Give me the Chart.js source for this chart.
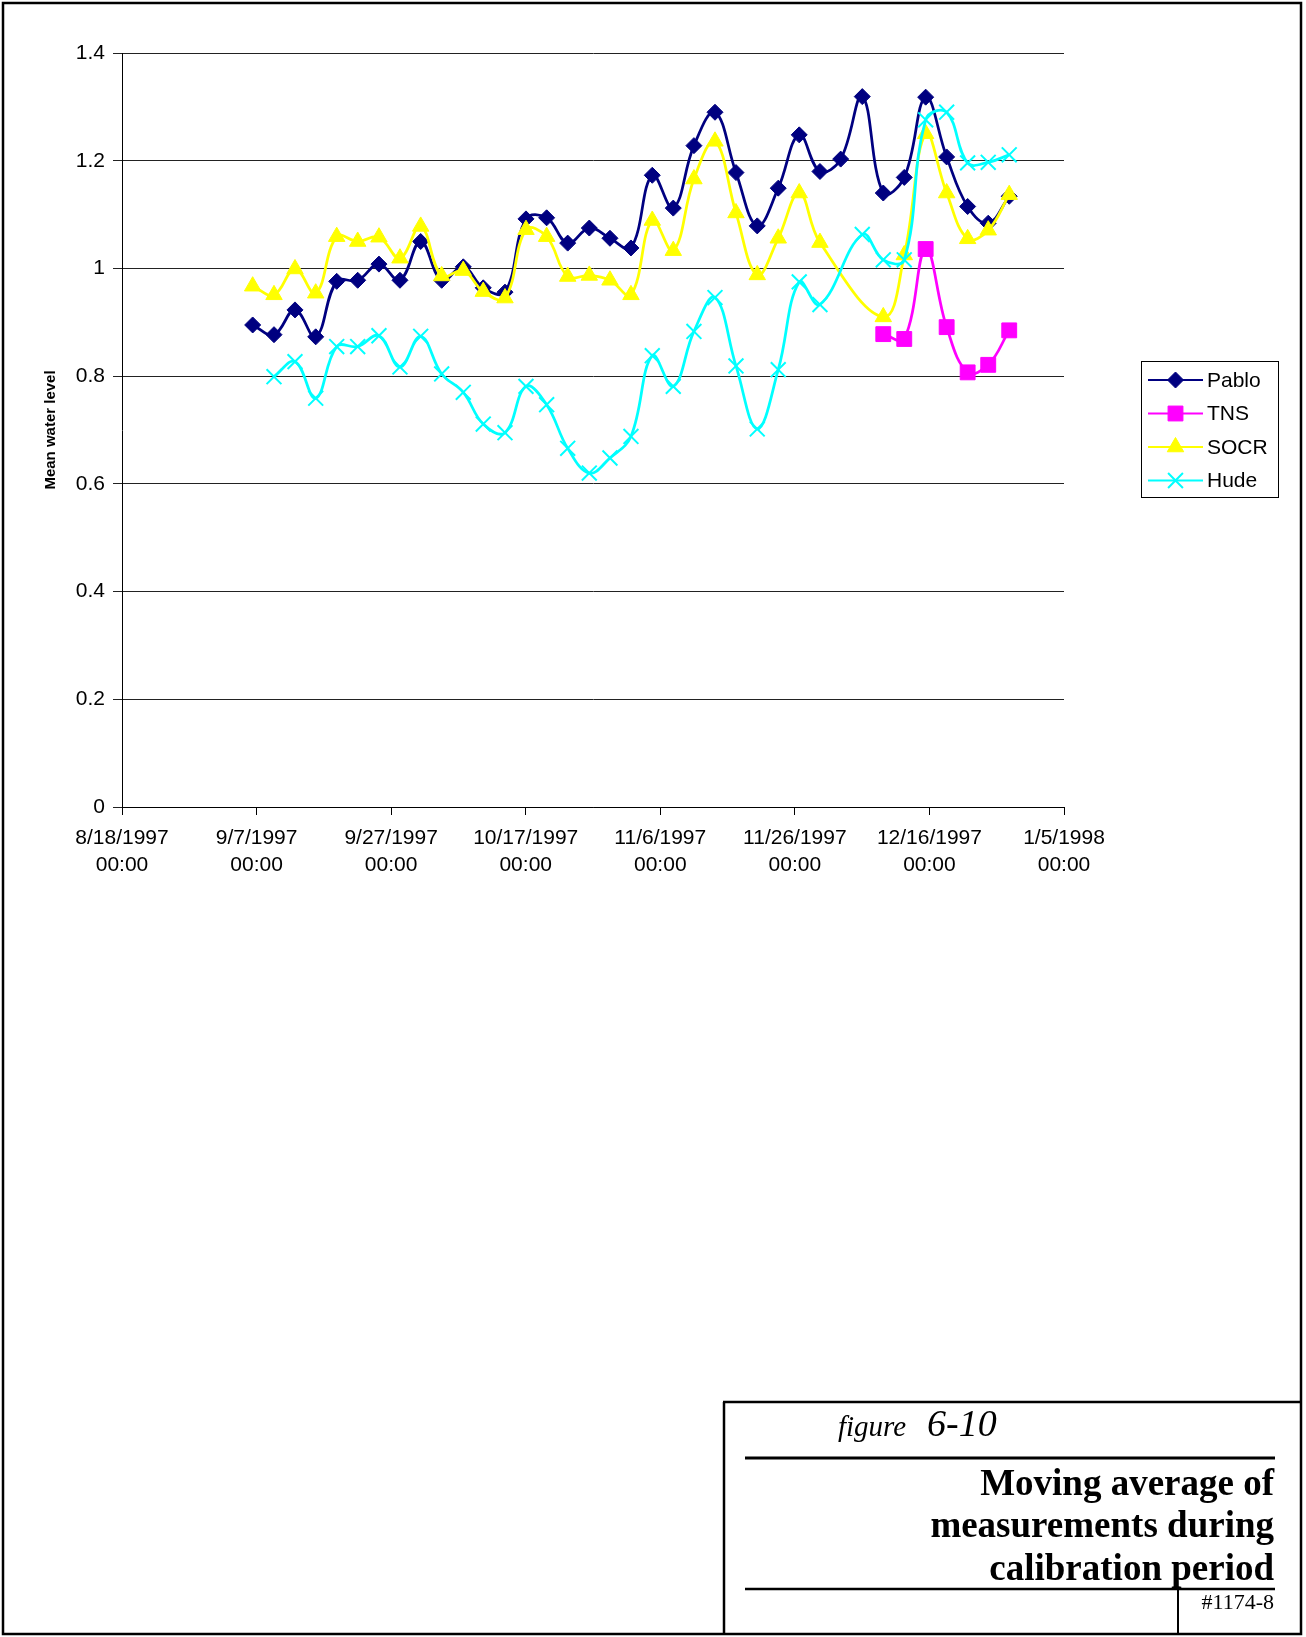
<!DOCTYPE html>
<html><head><meta charset="utf-8">
<script src="https://cdn.jsdelivr.net/npm/chart.js@4/dist/chart.umd.min.js"></script>
<style>
html,body{margin:0;padding:0;background:#fff;}
#page{position:relative;width:1306px;height:1637px;overflow:hidden;background:#fff;}
#c{position:absolute;left:0;top:0;}
#frame{position:absolute;left:0;top:0;pointer-events:none;}
</style></head><body><div id="page">
<canvas id="c" width="1306" height="900"></canvas>
<svg id="frame" width="1306" height="1637" xmlns="http://www.w3.org/2000/svg">
  <rect x="3" y="3" width="1298" height="1631" fill="none" stroke="#000" stroke-width="2.5"/>
  <line x1="724" y1="1402" x2="724" y2="1635" stroke="#000" stroke-width="2.5"/>
  <line x1="723" y1="1402" x2="1301" y2="1402" stroke="#000" stroke-width="2.5"/>
  <line x1="745" y1="1458" x2="1275" y2="1458" stroke="#000" stroke-width="3"/>
  <line x1="745" y1="1589" x2="1275" y2="1589" stroke="#000" stroke-width="2.5"/>
  <line x1="1178" y1="1589" x2="1178" y2="1635" stroke="#000" stroke-width="2"/>
  <text x="838" y="1436" font-family="'Liberation Serif','Times New Roman',serif" font-style="italic" font-size="29">figure</text>
  <text x="927" y="1436" font-family="'Liberation Serif','Times New Roman',serif" font-style="italic" font-size="38">6-10</text>
  <g font-family="'Liberation Serif','Times New Roman',serif" font-weight="bold" font-size="37" text-anchor="end">
    <text x="1274" y="1495">Moving average of</text>
    <text x="1274" y="1537">measurements during</text>
    <text x="1274" y="1580">calibration period</text>
  </g>
  <text x="1274" y="1609" text-anchor="end" font-family="'Liberation Serif','Times New Roman',serif" font-size="22">#1174-8</text>
</svg>
</div>
<script>
const seriesNames = ['Pablo', 'TNS', 'SOCR', 'Hude'];
const xTickDates = ['8/18/1997', '9/7/1997', '9/27/1997', '10/17/1997', '11/6/1997', '11/26/1997', '12/16/1997', '1/5/1998'];
const yTickLabels = ['0', '0.2', '0.4', '0.6', '0.8', '1', '1.2', '1.4'];
// days after 8/18/1997 00:00
const xDays = [19.42, 22.59, 25.71, 28.79, 31.91, 35.03, 38.19, 41.31, 44.39, 47.51, 50.72, 53.69, 56.92, 60.04, 63.11, 66.24, 69.45, 72.52, 75.64, 78.81, 81.93, 85.00, 88.13, 91.25, 94.41, 97.53, 100.65, 103.73, 106.81, 110.02, 113.14, 116.26, 119.44, 122.56, 125.68, 128.74, 131.86];
const pablo = [0.895, 0.877, 0.923, 0.873, 0.976, 0.978, 1.008, 0.978, 1.050, 0.978, 1.003, 0.964, 0.956, 1.092, 1.094, 1.047, 1.075, 1.056, 1.038, 1.173, 1.112, 1.228, 1.290, 1.178, 1.079, 1.149, 1.248, 1.180, 1.203, 1.319, 1.140, 1.169, 1.318, 1.207, 1.115, 1.084, 1.134];
const tns = [null, null, null, null, null, null, null, null, null, null, null, null, null, null, null, null, null, null, null, null, null, null, null, null, null, null, null, null, null, null, 0.878, 0.869, 1.036, 0.891, 0.807, 0.821, 0.885];
const socr = [0.967, 0.951, 0.999, 0.954, 1.059, 1.050, 1.058, 1.019, 1.078, 0.986, 0.996, 0.957, 0.945, 1.072, 1.059, 0.985, 0.987, 0.978, 0.951, 1.089, 1.033, 1.166, 1.236, 1.103, 0.988, 1.056, 1.140, 1.048, null, null, 0.910, 1.025, 1.250, 1.140, 1.055, 1.071, 1.137];
const hude = [null, 0.799, 0.827, 0.759, 0.855, 0.855, 0.875, 0.817, 0.874, 0.804, 0.770, 0.711, 0.695, 0.781, 0.747, 0.666, 0.620, 0.648, 0.688, 0.838, 0.781, 0.883, 0.946, 0.819, 0.702, 0.812, 0.975, 0.933, null, 1.063, 1.016, 1.016, 1.276, 1.290, 1.196, 1.197, 1.211];

function pts(vals) {
  const out = [];
  vals.forEach((v, i) => { if (v !== null) out.push({x: xDays[i], y: v}); });
  return out;
}

const FONT = "'Liberation Sans', Arial, sans-serif";

function ds(label, values, color, style, radius, order, pbw) {
  return {
    label: label, data: pts(values), order: order,
    borderColor: color, backgroundColor: color, borderWidth: 2.75,
    pointStyle: style, pointRadius: radius, pointHoverRadius: radius,
    pointBackgroundColor: color, pointBorderColor: color, pointBorderWidth: pbw,
    tension: 0.4, fill: false
  };
}

const legendPlugin = {
  id: 'boxLegend',
  afterDraw(chart, args, o) {
    const ctx = chart.ctx;
    ctx.save();
    ctx.strokeStyle = '#000'; ctx.lineWidth = 1;
    ctx.strokeRect(o.left + 0.5, o.top + 0.5, o.width, o.height);
    chart.data.datasets.forEach((d, i) => {
      const y = o.firstY + i * o.rowGap;
      ctx.strokeStyle = d.borderColor; ctx.lineWidth = 2;
      ctx.beginPath(); ctx.moveTo(o.lineX0, y); ctx.lineTo(o.lineX1, y); ctx.stroke();
      if (Chart.helpers && Chart.helpers.drawPoint) {
        ctx.fillStyle = d.pointBackgroundColor; ctx.strokeStyle = d.pointBorderColor;
        ctx.lineWidth = d.pointBorderWidth;
        Chart.helpers.drawPoint(ctx, {pointStyle: d.pointStyle, rotation: 0, radius: d.pointRadius, borderWidth: d.pointBorderWidth}, (o.lineX0 + o.lineX1) / 2, y);
      }
      ctx.fillStyle = '#000'; ctx.font = '21px ' + FONT; ctx.textBaseline = 'middle'; ctx.textAlign = 'left';
      ctx.fillText(d.label, o.textX, y + 1);
    });
    ctx.restore();
  }
};

new Chart(document.getElementById('c'), {
  type: 'line',
  data: {
    datasets: [
      ds(seriesNames[0], pablo, '#000080', 'rectRot', 8, 4, 1),
      ds(seriesNames[1], tns, '#FF00FF', 'rect', 10.5, 3, 1),
      ds(seriesNames[2], socr, '#FFFF00', 'triangle', 9.5, 2, 1),
      ds(seriesNames[3], hude, '#00FFFF', 'crossRot', 10.5, 1, 2)
    ]
  },
  plugins: [legendPlugin],
  options: {
    responsive: false, animation: false, devicePixelRatio: 1,
    layout: {padding: {left: 0, top: 53, right: 242, bottom: 0}},
    plugins: {
      legend: {display: false}, tooltip: {enabled: false},
      boxLegend: {left: 1141, top: 361, width: 137, height: 136, firstY: 380, rowGap: 33.5, lineX0: 1148, lineX1: 1203, textX: 1207}
    },
    scales: {
      x: {
        type: 'linear', min: 0, max: 140,
        ticks: {stepSize: 20, autoSkip: false, maxRotation: 0, color: '#000', padding: 10,
          font: {family: FONT, size: 21, lineHeight: 27 / 21},
          callback: (v) => [xTickDates[Math.round(v / 20)], '00:00']},
        grid: {drawOnChartArea: false, drawTicks: true, tickLength: 8, color: '#000'},
        border: {color: '#000', width: 1},
        afterFit: (s) => { s.height = 93; }
      },
      y: {
        min: 0, max: 1.4,
        ticks: {stepSize: 0.2, color: '#000', padding: 8, font: {family: FONT, size: 21},
          callback: (v) => yTickLabels[Math.round(v / 0.2)]},
        grid: {color: '#222', tickLength: 9, lineWidth: 1},
        border: {color: '#000', width: 1},
        title: {display: true, text: 'Mean water level', color: '#000',
          font: {family: FONT, size: 15, weight: 'bold'}, padding: {top: 42, bottom: 0}},
        afterFit: (s) => { s.width = 122; }
      }
    }
  }
});
</script>
</body></html>
